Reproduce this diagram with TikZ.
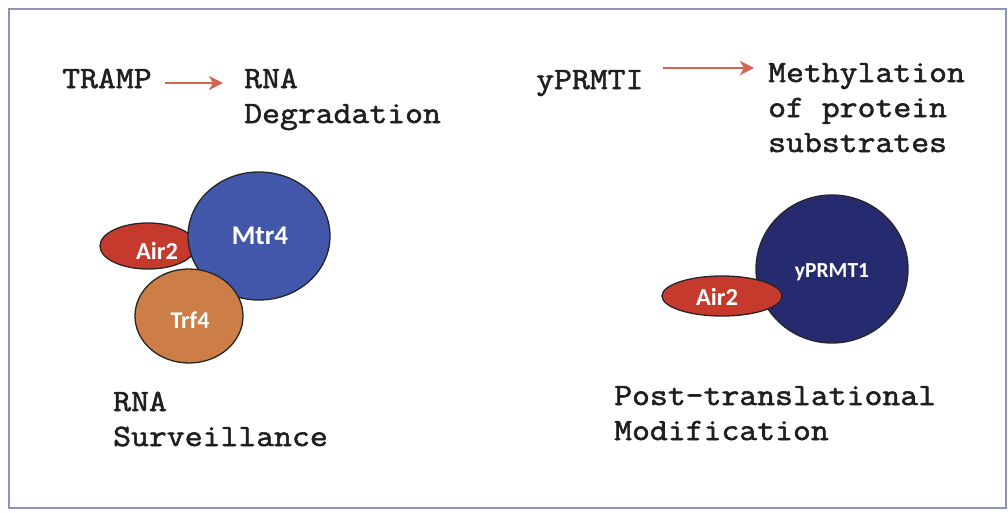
\documentclass[tikz,border=0pt]{standalone}
\usepackage{fontspec}
\newfontfamily\monofnt[FakeBold=1.8,FakeStretch=1.12]{Latin Modern Mono}
\newfontfamily\lblfont{Carlito}
\usetikzlibrary{arrows.meta,shapes.geometric,calc}
\definecolor{framec}{HTML}{8A94B8}
\definecolor{arrowc}{HTML}{D4634F}
\definecolor{airc}{HTML}{C63A2E}
\definecolor{mtrc}{HTML}{4257AA}
\definecolor{trfc}{HTML}{CD7D46}
\definecolor{prmtc}{HTML}{262B70}
\tikzset{
  mono/.style={font=\monofnt\fontsize{31}{35}\selectfont, inner sep=0pt, anchor=base west, align=left, text=black!88},
  blob/.style={ellipse, draw=black!85, line width=1.3pt, inner sep=0pt},
  lbl/.style={text=white, inner sep=0pt},
  redarrow/.style={draw=arrowc, line width=2.5pt, -{Stealth[length=14pt,width=14pt,inset=4pt]}}
}
\begin{document}
\begin{tikzpicture}[x=1pt,y=-1pt]
\useasboundingbox (0,0) rectangle (1008,512);
\fill[white] (0,0) rectangle (1008,512);
\draw[framec, line width=2pt] (9,9) rectangle (1006,508);

% texts (base anchor = baseline of the last line)
\node[mono] (tramp) at (62,88) {TRAMP};
\node[mono] (rnadeg) at (244,123) {RNA\\Degradation};
\node[mono] (yprmti) at (536,89) {yPRMTI};
\node[mono] (methyl) at (768,152) {Methylation\\of protein\\substrates};
\node[mono] (rnasurv) at (113,446) {RNA\\Surveillance};
\node[mono] (ptm) at (614,440) {Post-translational\\Modification};

% arrows
\coordinate (a1s) at (165,83);
\coordinate (a1e) at (223,83);
\draw[redarrow] (a1s) -- (a1e);
\coordinate (a2s) at (663,68);
\coordinate (a2e) at (754,68);
\draw[redarrow] (a2s) -- (a2e);

% left complex
\node[blob, fill=airc, minimum width=96pt, minimum height=46pt] (air2L) at (148,246) {};
\node[blob, fill=mtrc, minimum width=142pt, minimum height=128pt] (mtr4) at (259,236) {};
\node[blob, fill=trfc, minimum width=108pt, minimum height=94pt] (trf4) at (189,316) {};
\node[lbl, font=\lblfont\bfseries\fontsize{24.5}{28}\selectfont] (air2Lt) at (157,251) {Air2};
\node[lbl, font=\lblfont\bfseries\fontsize{27}{30}\selectfont] (mtr4t) at (260,236) {Mtr4};
\node[lbl, font=\lblfont\bfseries\fontsize{24}{28}\selectfont] (trf4t) at (190,320) {Trf4};

% right complex
\node[blob, fill=prmtc, minimum width=152pt, minimum height=148pt] (yprmt) at (832,269) {};
\node[blob, fill=airc, minimum width=120pt, minimum height=40pt] (air2R) at (722,296) {};
\node[lbl, font=\lblfont\bfseries\fontsize{21.5}{25}\selectfont] (yprmtt) at (832,272) {yPRMT1};
\node[lbl, font=\lblfont\bfseries\fontsize{24.5}{28}\selectfont] (air2Rt) at (717,297) {Air2};
\end{tikzpicture}
\end{document}
